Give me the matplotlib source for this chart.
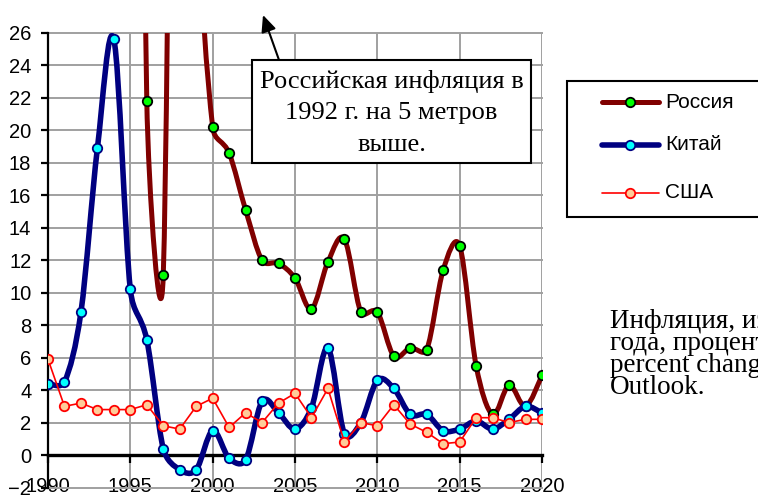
import matplotlib
matplotlib.use("Agg")
import matplotlib.pyplot as plt
import numpy as np
from matplotlib.lines import Line2D
from matplotlib.path import Path
from matplotlib.patches import PathPatch, Rectangle, FancyArrowPatch

# values (inflation, % change, end of year)
years = list(range(1990, 2021))
russia_years = list(range(1992, 2021))
russia = [2508.8, 839.9, 215.1, 131.3, 21.8, 11.1, 84.4, 36.5, 20.2, 18.6,
          15.1, 12.0, 11.8, 10.9, 9.0, 11.9, 13.3, 8.8, 8.8, 6.1,
          6.6, 6.5, 11.4, 12.9, 5.5, 2.5, 4.3, 3.0, 4.9]
china = [4.4, 4.5, 8.8, 18.9, 25.6, 10.2, 7.1, 0.4, -0.9, -0.9,
         1.5, -0.2, -0.3, 3.3, 2.6, 1.6, 2.9, 6.6, 1.3, 2.0,
         4.6, 4.1, 2.5, 2.5, 1.5, 1.6, 2.1, 1.6, 2.2, 3.0, 2.6]
usa = [5.9, 3.0, 3.2, 2.8, 2.8, 2.8, 3.1, 1.8, 1.6, 3.0,
       3.5, 1.7, 2.6, 2.0, 3.2, 3.8, 2.3, 4.1, 0.8, 2.0,
       1.8, 3.1, 1.9, 1.4, 0.7, 0.8, 2.3, 2.3, 2.0, 2.2, 2.2]
labels = ["Россия", "Китай", "США"]

note = ["Российская инфляция в", "1992 г. на 5 метров", "выше."]
source = ["Инфляция, изменение", "года, проценты,", "percent change,", "Outlook."]

W, H = 758, 496
SANS = "Liberation Sans"
SERIF = "Liberation Serif"


def fx(px):
    return px / W


def fy(py):
    return 1 - py / H


def smooth_path(xs, ys, sx, sy):
    # Bezier path through the points, control points like a spreadsheet "smoothed line"
    pts = np.column_stack([xs, ys]).astype(float)
    scale = np.array([sx, sy])
    verts = [pts[0]]
    codes = [Path.MOVETO]
    n = len(pts)
    for i in range(n - 1):
        p1, p2 = pts[i], pts[i + 1]
        p0 = pts[i - 1] if i > 0 else p1
        p3 = pts[i + 2] if i + 2 < n else p2
        d12 = np.hypot(*((p2 - p1) * scale))
        d02 = np.hypot(*((p2 - p0) * scale))
        d13 = np.hypot(*((p3 - p1) * scale))
        f1 = min(1 / 6, d12 / 2 / d02) if d02 > 0 else 0
        f2 = min(1 / 6, d12 / 2 / d13) if d13 > 0 else 0
        verts += [p1 + (p2 - p0) * f1, p2 - (p3 - p1) * f2, p2]
        codes += [Path.CURVE4] * 3
    return Path(verts, codes)


fig = plt.figure(figsize=(7.58, 4.96), dpi=100)
ax = fig.add_axes([fx(48), 1 - 487.5 / H, (542 - 48) / W, (487.5 - 33) / H])
ax.set_xlim(1990, 2020)
ax.set_ylim(-2, 26)

bbox = ax.get_window_extent()
sx, sy = bbox.width / 30, bbox.height / 28

series = [
    (russia_years, russia, "#800000", 3.6, True, "#00ff00", "black"),
    (years, china, "#000080", 4.0, True, "#00ffff", "#000080"),
    (years, usa, "#ff0000", 1.2, False, "#ffcc99", "#ff0000"),
]
for k, (xs, ys, color, lw, smooth, mface, medge) in enumerate(series):
    z = 3 + 2 * k
    if smooth:
        ax.add_patch(PathPatch(smooth_path(xs, ys, sx, sy), facecolor="none", edgecolor=color,
                               lw=lw, capstyle="round", joinstyle="round", zorder=z))
    else:
        ax.plot(xs, ys, color=color, lw=lw, zorder=z)
    ax.plot(xs, ys, ls="none", marker="o", ms=6.8, mfc=mface, mec=medge, mew=1.3, zorder=z + 1)

ax.set_xlim(1990, 2020)
ax.set_ylim(-2, 26)
ax.set_xticks(range(1990, 2021, 5))
ax.set_yticks(range(-2, 27, 2))
ax.grid(True, color="#a0a0a0", lw=1.4)
ax.set_axisbelow(True)
for gl in ax.get_xgridlines() + ax.get_ygridlines():
    gl.set_clip_on(False)

for side in ("top", "right"):
    ax.spines[side].set_visible(False)
ax.spines["bottom"].set_position(("data", 0))
ax.spines["bottom"].set_linewidth(2.4)
ax.spines["left"].set_linewidth(1.6)
ax.spines["bottom"].set_zorder(2.5)

ax.tick_params(axis="x", direction="out", length=6, width=1.6, pad=10, labelsize=14.5)
ax.tick_params(axis="y", direction="out", length=5, width=1.6, pad=7, labelsize=14.5)
for lab in ax.get_xticklabels() + ax.get_yticklabels():
    lab.set_fontfamily(SANS)

# legend box
fig.add_artist(Rectangle((fx(567), fy(217)), fx(770) - fx(567), fy(81) - fy(217),
                         transform=fig.transFigure, facecolor="white", edgecolor="black", lw=1.5))
rows = [102, 145, 193]
for (xs, ys, color, lw, smooth, mface, medge), label, ry in zip(series, labels, rows):
    fig.add_artist(Line2D([fx(602), fx(659)], [fy(ry), fy(ry)], transform=fig.transFigure,
                          color=color, lw=lw, solid_capstyle="round"))
    fig.add_artist(Line2D([fx(630)], [fy(ry)], transform=fig.transFigure, ls="none", marker="o",
                          ms=6.8, mfc=mface, mec=medge, mew=1.3))
    fig.text(fx(665), fy(ry), label, family=SANS, fontsize=15, va="center", ha="left")

# note box with arrow pointing up
fig.add_artist(Rectangle((fx(252), fy(163)), fx(531) - fx(252), fy(60) - fy(163),
                         transform=fig.transFigure, facecolor="white", edgecolor="black", lw=1.5))
for line, base in zip(note, [88, 119, 151]):
    fig.text(fx(391.5), fy(base), line, family=SERIF, fontsize=19, ha="center", va="baseline")
fig.add_artist(FancyArrowPatch((fx(279), fy(60)), (fx(263), fy(15)), transform=fig.transFigure,
                               arrowstyle="-|>,head_length=1.0,head_width=0.45", mutation_scale=10,
                               color="black", lw=1.5, shrinkA=0, shrinkB=0))

for line, base in zip(source, [328, 350, 372, 394]):
    fig.text(fx(610), fy(base), line, family=SERIF, fontsize=19.5, ha="left", va="baseline")

fig.savefig("out.png", dpi=100)
